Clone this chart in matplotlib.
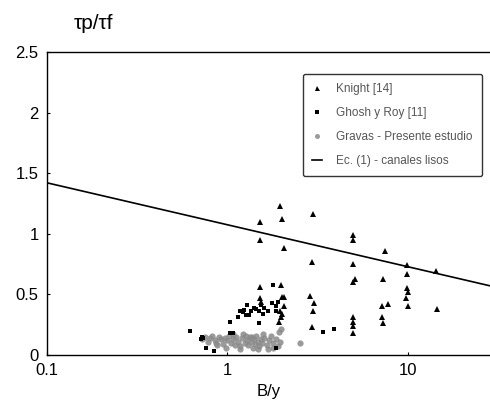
import matplotlib.pyplot as plt
import numpy as np

plt.rcParams['font.family'] = ['Liberation Sans', 'DejaVu Sans']

# Knight [14]
knight_x = [1.97, 1.51, 2.02, 2.97, 1.51, 2.05, 4.95, 4.95, 7.45, 2.93,
            4.95, 9.87, 14.3, 9.87, 5.07, 4.95, 7.26, 1.51, 1.99, 1.51,
            2.05, 2.89, 3.04, 2.97, 9.87, 10.0, 9.75, 7.74, 7.16, 10.0,
            14.5, 7.16, 7.26, 4.95, 4.95, 4.95, 4.95, 2.93, 1.99, 2.0,
            2.05, 1.94, 1.53, 1.97, 2.02]
knight_y = [1.23, 1.10, 1.12, 1.16, 0.95, 0.88, 0.99, 0.95, 0.86, 0.77,
            0.75, 0.74, 0.69, 0.67, 0.63, 0.60, 0.63, 0.56, 0.58, 0.47,
            0.48, 0.49, 0.43, 0.36, 0.55, 0.52, 0.47, 0.42, 0.40, 0.40,
            0.38, 0.31, 0.26, 0.31, 0.27, 0.24, 0.18, 0.23, 0.31, 0.34,
            0.40, 0.27, 0.44, 0.36, 0.48]

# Ghosh y Roy [11]
ghosh_x = [1.80, 0.84, 0.76, 0.62, 1.04, 1.14, 1.18, 1.24, 1.29, 1.36,
           1.41, 1.49, 1.54, 1.60, 1.67, 1.76, 1.85, 1.92, 1.87, 1.49,
           1.27, 1.03, 1.07, 0.73, 0.72, 1.87, 3.37, 3.88, 0.71, 1.22,
           1.32, 1.45, 1.58]
ghosh_y = [0.58, 0.03, 0.06, 0.20, 0.27, 0.31, 0.36, 0.37, 0.41, 0.36,
           0.39, 0.36, 0.41, 0.39, 0.36, 0.43, 0.40, 0.44, 0.36, 0.26,
           0.33, 0.18, 0.18, 0.14, 0.15, 0.06, 0.19, 0.21, 0.13, 0.35,
           0.33, 0.38, 0.34]

# Gravas - Presente estudio
gravas_x = [0.72, 0.75, 0.78, 0.80, 0.82, 0.85, 0.87, 0.90, 0.92, 0.95,
            0.97, 1.00, 1.02, 1.05, 1.08, 1.10, 1.12, 1.15, 1.18, 1.20,
            1.22, 1.25, 1.28, 1.30, 1.33, 1.35, 1.38, 1.40, 1.43, 1.45,
            1.48, 1.50, 1.53, 1.55, 1.60, 1.65, 1.70, 1.75, 1.80, 1.85,
            1.90, 1.95, 1.99, 2.52, 0.88, 0.98, 1.07, 1.17, 1.27, 1.37,
            1.47, 1.57, 1.67, 1.78, 1.94]
gravas_y = [0.13, 0.15, 0.11, 0.14, 0.16, 0.12, 0.10, 0.15, 0.13, 0.09,
            0.14, 0.12, 0.16, 0.10, 0.13, 0.08, 0.15, 0.11, 0.07, 0.14,
            0.17, 0.10, 0.12, 0.08, 0.15, 0.11, 0.06, 0.13, 0.09, 0.16,
            0.11, 0.07, 0.13, 0.10, 0.14, 0.08, 0.12, 0.16, 0.10, 0.13,
            0.07, 0.11, 0.21, 0.10, 0.08, 0.06, 0.17, 0.05, 0.16, 0.15,
            0.05, 0.17, 0.05, 0.06, 0.19]

# Ec. (1) - canales lisos
line_x = [0.1, 28.6]
line_y = [1.42, 0.57]

fig = plt.figure(figsize=(4.9, 4.19), dpi=100)
ax = fig.add_axes([0.096, 0.153, 0.904, 0.723])

ax.plot(gravas_x, gravas_y, 'o', color='#8a8a8a', markersize=4.5, alpha=0.85,
        markeredgewidth=0, label='Gravas - Presente estudio', zorder=2)
ax.plot(knight_x, knight_y, '^', color='black', markersize=4.5,
        markeredgewidth=0, label='Knight [14]', zorder=3)
ax.plot(ghosh_x, ghosh_y, 's', color='black', markersize=3.5,
        markeredgewidth=0, label='Ghosh y Roy [11]', zorder=3)
ax.plot(line_x, line_y, '-', color='black', linewidth=1.2,
        label='Ec. (1) - canales lisos', zorder=2)

ax.set_xscale('log')
ax.set_xlim(0.1, 28.6)
ax.set_ylim(0, 2.5)
ax.set_xticks([0.1, 1, 10])
ax.set_xticklabels(['0.1', '1', '10'])
ax.minorticks_off()
ax.set_yticks([0, 0.5, 1, 1.5, 2, 2.5])
ax.set_yticklabels(['0', '0.5', '1', '1.5', '2', '2.5'])
ax.tick_params(direction='in', length=2, labelsize=12, pad=6)
ax.spines['right'].set_visible(False)
for s in ['left', 'top', 'bottom']:
    ax.spines[s].set_linewidth(1.0)

ax.set_xlabel('B/y', fontsize=12, labelpad=4)
fig.text(0.15, 0.945, 'τp/τf', fontsize=15, ha='left', va='center')

handles, labels = ax.get_legend_handles_labels()
order = [1, 2, 0, 3]
leg = ax.legend([handles[i] for i in order], [labels[i] for i in order],
                loc='upper right', bbox_to_anchor=(0.995, 0.947),
                fontsize=8.5, frameon=True, fancybox=True,
                edgecolor='black', handlelength=0.8, markerscale=0.8,
                labelspacing=1.0, borderpad=0.8, handletextpad=1.2)
for t in leg.get_texts():
    t.set_color('#555555')

fig.savefig('out.png', dpi=100)
